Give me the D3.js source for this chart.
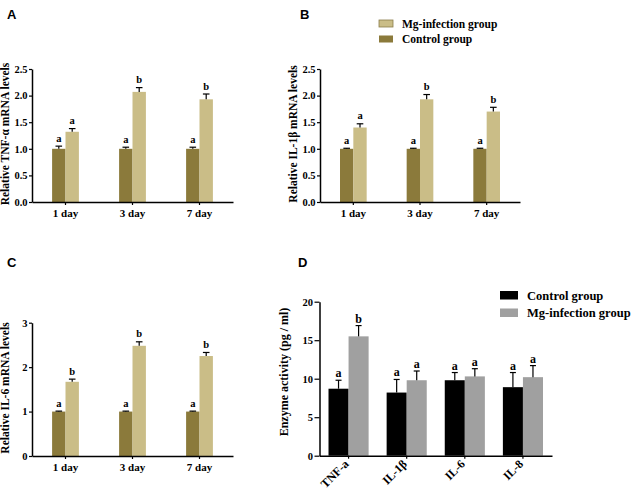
<!DOCTYPE html>
<html>
<head>
<meta charset="utf-8">
<script src="https://cdn.jsdelivr.net/npm/d3@7"></script>
<style>
  body { margin: 0; background: #fff; }
  svg { display: block; }
  text { font-family: "Liberation Serif", "Times New Roman", serif; font-weight: bold; fill: #000; }
  .plabel { font-family: "Liberation Sans", Arial, sans-serif; font-weight: bold; }
</style>
</head>
<body>
<svg id="chart" width="639" height="496"></svg>
<script>
// ---------- data ----------
const days = ["1 day", "3 day", "7 day"];
const mrnaSeries = ["Control group", "Mg-infection group"];

const tnfControl = [1.00, 1.00, 1.00];
const tnfControlErr = [0.05, 0.03, 0.03];
const tnfInfection = [1.32, 2.07, 1.93];
const tnfInfectionErr = [0.06, 0.08, 0.10];
const tnfLetters = [["a", "a"], ["a", "b"], ["a", "b"]];

const il1Control = [1.00, 1.00, 1.00];
const il1ControlErr = [0.01, 0.01, 0.01];
const il1Infection = [1.40, 1.93, 1.70];
const il1InfectionErr = [0.07, 0.09, 0.08];
const il1Letters = [["a", "a"], ["a", "b"], ["a", "b"]];

const il6Control = [1.00, 1.00, 1.00];
const il6ControlErr = [0.01, 0.01, 0.01];
const il6Infection = [1.67, 2.48, 2.25];
const il6InfectionErr = [0.06, 0.09, 0.08];
const il6Letters = [["a", "b"], ["a", "b"], ["a", "b"]];

const cytokines = ["TNF-a", "IL-1β", "IL-6", "IL-8"];
const enzControl = [8.7, 8.2, 9.8, 8.9];
const enzControlErr = [1.1, 1.7, 1.0, 1.9];
const enzInfection = [15.5, 9.8, 10.3, 10.2];
const enzInfectionErr = [1.4, 1.2, 1.0, 1.5];
const enzLetters = [["a", "b"], ["a", "a"], ["a", "a"], ["a", "a"]];

const yTicksAB = [0, 0.5, 1.0, 1.5, 2.0, 2.5];
const yTicksC = [0, 1, 2, 3];
const yTicksD = [0, 5, 10, 15, 20];

// ---------- drawing ----------
const svg = d3.select("#chart");
const olive = "#8b7a3b", khaki = "#cabd87";
const black = "#000000", gray = "#a0a0a0";

function panel(opt) {
  const g = svg.append("g");
  const x0 = d3.scaleBand().domain(opt.cats).range([opt.x0, opt.x1]).paddingInner(0).paddingOuter(0);
  const x1 = d3.scaleBand().domain([0, 1]).range([0, x0.bandwidth() * opt.groupFrac]);
  const y = d3.scaleLinear().domain([0, opt.ymax]).range([opt.yb, opt.yt]);
  const off = (x0.bandwidth() - x1.range()[1]) / 2;

  const rows = opt.cats.map((c, i) => [
    { c, k: 0, v: opt.ctrl[i], e: opt.ctrlErr[i], l: opt.letters[i][0] },
    { c, k: 1, v: opt.inf[i], e: opt.infErr[i], l: opt.letters[i][1] }
  ]).flat();

  const bars = g.append("g");
  bars.selectAll("rect").data(rows).join("rect")
    .attr("x", d => x0(d.c) + off + x1(d.k))
    .attr("width", x1.bandwidth())
    .attr("y", d => y(d.v))
    .attr("height", d => y(0) - y(d.v))
    .attr("fill", d => opt.colors[d.k]);

  const eb = g.append("g").attr("stroke", "#000").attr("stroke-width", 1.2);
  rows.forEach(d => {
    const cx = x0(d.c) + off + x1(d.k) + x1.bandwidth() / 2;
    eb.append("line").attr("x1", cx).attr("x2", cx).attr("y1", y(d.v)).attr("y2", y(d.v + d.e));
    eb.append("line").attr("x1", cx - opt.cap).attr("x2", cx + opt.cap).attr("y1", y(d.v + d.e)).attr("y2", y(d.v + d.e));
    g.append("text").attr("x", cx).attr("y", y(d.v + d.e) - opt.letterGap)
      .attr("text-anchor", "middle").style("font-size", opt.letterSize + "px").text(d.l);
  });

  // axes
  const ya = g.append("g").attr("transform", `translate(${opt.x0},0)`)
    .call(d3.axisLeft(y).tickValues(opt.yTicks).tickFormat(opt.yFmt).tickSize(opt.tickLen).tickSizeOuter(0).tickPadding(1.5));
  const xa = g.append("g").attr("transform", `translate(0,${opt.yb})`)
    .call(d3.axisBottom(x0).tickSize(3).tickSizeOuter(0).tickPadding(opt.xPad));
  [ya, xa].forEach(a => {
    a.select(".domain").attr("stroke", "#000").attr("stroke-width", 1.5);
    a.selectAll(".tick line").attr("stroke", "#000").attr("stroke-width", 1.2);
    a.selectAll("text").attr("fill", "#000").attr("font-family", null);
  });
  ya.selectAll("text").style("font-size", opt.yTickSize + "px");
  xa.selectAll("text").style("font-size", opt.xTickSize + "px");
  if (opt.rotate) {
    xa.selectAll(".tick text")
      .attr("text-anchor", "end").attr("dy", "0.35em")
      .attr("transform", "translate(-2,6) rotate(-45)").attr("y", 0).attr("x", 0);
  }

  g.append("text").attr("transform", `translate(${opt.titleX},${opt.titleY}) rotate(-90)`)
    .attr("text-anchor", "middle").style("font-size", opt.titleSize + "px").text(opt.title);
  g.append("text").attr("class", "plabel").attr("x", opt.px).attr("y", opt.py)
    .style("font-size", "13px").text(opt.letter);
}

const fmt1 = d3.format(".1f");

panel({ cats: days, x0: 32, x1: 233, yb: 202, yt: 69, ymax: 2.5, groupFrac: 0.4,
  ctrl: tnfControl, ctrlErr: tnfControlErr, inf: tnfInfection, infErr: tnfInfectionErr, letters: tnfLetters,
  colors: [olive, khaki], cap: 3.3, letterGap: 4.5, letterSize: 10.5,
  yTicks: yTicksAB, yFmt: fmt1, tickLen: 3, yTickSize: 10.5, xTickSize: 11, xPad: 4,
  title: "Relative TNF-α  mRNA levels", titleX: 9, titleY: 134, titleSize: 11.5,
  letter: "A", px: 7, py: 19 });

panel({ cats: days, x0: 320, x1: 520, yb: 202, yt: 69, ymax: 2.5, groupFrac: 0.4,
  ctrl: il1Control, ctrlErr: il1ControlErr, inf: il1Infection, infErr: il1InfectionErr, letters: il1Letters,
  colors: [olive, khaki], cap: 3.3, letterGap: 4.5, letterSize: 10.5,
  yTicks: yTicksAB, yFmt: fmt1, tickLen: 3, yTickSize: 10.5, xTickSize: 11, xPad: 4,
  title: "Relative IL-1β mRNA levels", titleX: 297, titleY: 134, titleSize: 11.5,
  letter: "B", px: 300, py: 19 });

panel({ cats: days, x0: 32, x1: 233, yb: 456, yt: 322.7, ymax: 3, groupFrac: 0.4,
  ctrl: il6Control, ctrlErr: il6ControlErr, inf: il6Infection, infErr: il6InfectionErr, letters: il6Letters,
  colors: [olive, khaki], cap: 3.3, letterGap: 4.5, letterSize: 10.5,
  yTicks: yTicksC, yFmt: d3.format("d"), tickLen: 3, yTickSize: 10.5, xTickSize: 11, xPad: 4,
  title: "Relative IL-6 mRNA levels", titleX: 9, titleY: 388, titleSize: 11.5,
  letter: "C", px: 7, py: 267 });

panel({ cats: cytokines, x0: 319.5, x1: 552, yb: 455.7, yt: 301.7, ymax: 20, groupFrac: 0.69,
  ctrl: enzControl, ctrlErr: enzControlErr, inf: enzInfection, infErr: enzInfectionErr, letters: enzLetters,
  colors: [black, gray], cap: 3, letterGap: 3, letterSize: 12,
  yTicks: yTicksD, yFmt: d3.format("d"), tickLen: 5, yTickSize: 10.5, xTickSize: 12, xPad: 4, rotate: true,
  title: "Enzyme activity  (pg / ml)", titleX: 288, titleY: 372, titleSize: 12,
  letter: "D", px: 298, py: 267 });

// ---------- legends ----------
function legend(items, x, y, sw, sh, gap, fs, textX) {
  const g = svg.append("g");
  items.forEach((it, i) => {
    g.append("rect").attr("x", x).attr("y", y + i * gap).attr("width", sw).attr("height", sh)
      .attr("fill", it.color).attr("stroke", it.stroke || "none").attr("stroke-width", 0.8);
    g.append("text").attr("x", textX).attr("y", y + i * gap + sh / 2).attr("dy", "0.35em")
      .style("font-size", fs + "px").text(it.name);
  });
}
legend([{ name: mrnaSeries[1], color: khaki, stroke: "#8a7d4a" }, { name: mrnaSeries[0], color: olive }],
  379, 20, 14, 7, 15.5, 11.5, 402);
legend([{ name: mrnaSeries[0], color: black }, { name: mrnaSeries[1], color: gray }],
  500, 291, 18, 8.5, 17.5, 12.5, 527);
</script>
</body>
</html>
